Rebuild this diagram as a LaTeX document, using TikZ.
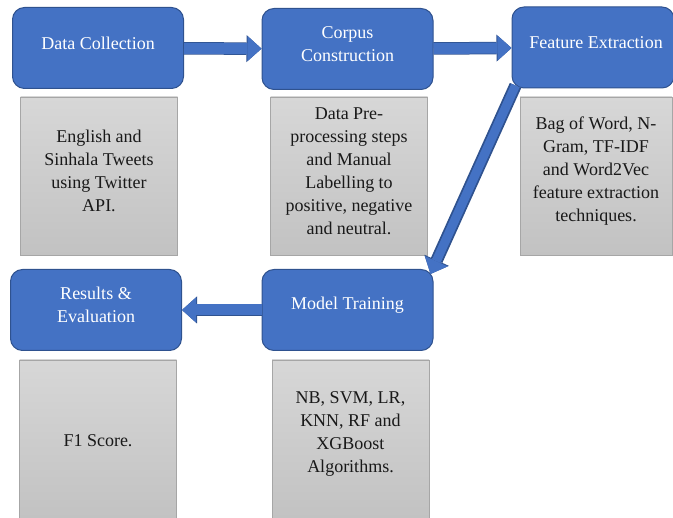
\documentclass[tikz,border=0pt]{standalone}
\usepackage{fontspec}
\setmainfont{Liberation Serif}
\usetikzlibrary{arrows.meta}
\definecolor{boxblue}{HTML}{4472C4}
\definecolor{edgeblue}{HTML}{2F528F}
\definecolor{greytop}{HTML}{D7D7D7}
\definecolor{greybottom}{HTML}{C2C2C2}
\definecolor{greyedge}{HTML}{A6A6A6}

\begin{document}
\begin{tikzpicture}[x=1pt, y=-1pt,
		bluebox/.style={draw=edgeblue, line width=1pt, fill=boxblue, rounded corners=12pt, minimum width=171pt, minimum height=81pt},
		boxtext/.style={text=white, font=\fontsize{18}{23}\selectfont, align=center, yshift=5pt},
		greybox/.style={draw=greyedge, line width=0.8pt, top color=greytop, bottom color=greybottom, minimum width=157pt, minimum height=158pt},
		greytext/.style={text=black!90, font=\fontsize{18}{23}\selectfont, align=center, yshift=5pt},
		flow/.style={draw=boxblue, line width=11pt, -{Triangle[width=25pt, length=14pt, line width=0pt]},
			preaction={draw=edgeblue, line width=12.5pt, -{Triangle[width=27pt, length=15pt, line width=0pt]}}}]
		\useasboundingbox (0, 0) rectangle (673, 518);

		% process steps
		\node[bluebox, label={[boxtext]center:Data Collection}] (collect) at (98, 48) {};
		\node[bluebox, label={[boxtext]center:Corpus\\Construction}] (corpus) at (347.5, 49) {};
		\node[bluebox, minimum width=162pt, label={[boxtext, xshift=3pt]center:Feature Extraction}] (feature) at (593, 47.5) {};
		\node[bluebox, label={[boxtext]center:Model Training}] (model) at (347.5, 310) {};
		\node[bluebox, label={[boxtext]center:Results \&\\Evaluation}] (results) at (96, 310) {};

		% descriptions
		\node[greybox, label={[greytext]center:English and\\Sinhala Tweets\\using Twitter\\API.}] (collectinfo) at (99, 176) {};
		\node[greybox, label={[greytext]center:{Data Pre-\\processing steps\\and Manual\\Labelling to\\positive, negative\\and neutral.}}] (corpusinfo) at (349, 176) {};
		\node[greybox, minimum width=152pt, label={[greytext]center:{Bag of Word, N-\\Gram, TF-IDF\\and Word2Vec\\feature extraction\\techniques.}}] (featureinfo) at (596, 176) {};
		\node[greybox, label={[greytext]center:{NB, SVM, LR,\\KNN, RF and\\XGBoost\\Algorithms.}}] (modelinfo) at (350.5, 439) {};
		\node[greybox, label={[greytext, yshift=-7pt]center:F1 Score.}] (resultsinfo) at (98, 439) {};

		% block arrows
		\draw[flow] (collect) -- (corpus);
		\draw[flow] (corpus) -- (feature);
		\draw[flow, line width=9pt, preaction={line width=10.5pt}] ([shift={(4, -3)}]feature.south west) -- ([shift={(-3, 5)}]model.north east);
		\draw[flow] (model) -- (results);
	\end{tikzpicture}
\end{document}
